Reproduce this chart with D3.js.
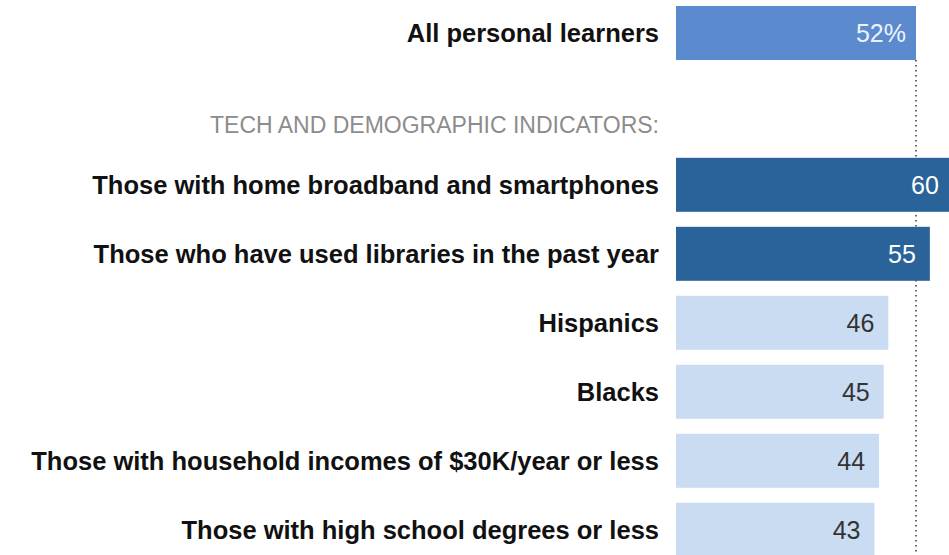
<!DOCTYPE html>
<html>
<head>
<meta charset="utf-8">
<script src="https://cdn.jsdelivr.net/npm/d3@7"></script>
<style>
  body { margin: 0; background: #fff; }
  svg { display: block; }
  .label { font-family: "Liberation Sans", Arial, sans-serif; font-weight: bold; fill: #111; }
  .value { font-family: "Liberation Sans", Arial, sans-serif; }
  .header { font-family: "Liberation Sans", Arial, sans-serif; fill: #8c8c8c; }
</style>
</head>
<body>
<script>
// data
var categories = [
  "All personal learners",
  "Those with home broadband and smartphones",
  "Those who have used libraries in the past year",
  "Hispanics",
  "Blacks",
  "Those with household incomes of $30K/year or less",
  "Those with high school degrees or less"
];
var values = [52, 60, 55, 46, 45, 44, 43];
var valueLabels = ["52%", "60", "55", "46", "45", "44", "43"];
var groups = ["total", "high", "high", "low", "low", "low", "low"];
// row slots, the gap after the first row holds the section title
var rowSlots = [0, 2.2, 3.2, 4.2, 5.2, 6.2, 7.2];
var sectionTitle = "TECH AND DEMOGRAPHIC INDICATORS:";
var sectionSlot = 1.33;
var referenceValue = 52;

var width = 949, height = 555;
var barHeight = 54;

var svg = d3.select("body").append("svg")
  .attr("width", width)
  .attr("height", height);

var x = d3.scaleLinear().domain([0, 52]).range([676, 916]);
var y = d3.scaleLinear().domain([0, 1]).range([6, 75]);

var fill = d3.scaleOrdinal()
  .domain(["total", "high", "low"])
  .range(["#5b8acf", "#2a6399", "#c9dcf1"]);
var textFill = d3.scaleOrdinal()
  .domain(["total", "high", "low"])
  .range(["#eef3fb", "#ffffff", "#333333"]);

var rows = categories.map(function (c, i) {
  return { name: c, value: values[i], label: valueLabels[i], group: groups[i], slot: rowSlots[i] };
});

// dotted reference line, under the bars
svg.append("line")
  .attr("x1", x(referenceValue))
  .attr("x2", x(referenceValue))
  .attr("y1", y(rowSlots[0]) + barHeight)
  .attr("y2", height)
  .attr("stroke", "#444")
  .attr("stroke-width", 1.6)
  .attr("stroke-dasharray", "1.6,3.4");

var g = svg.selectAll("g.row")
  .data(rows)
  .enter()
  .append("g")
  .attr("class", "row");

g.append("rect")
  .attr("x", x(0))
  .attr("y", function (d) { return y(d.slot); })
  .attr("width", function (d) { return x(d.value) - x(0); })
  .attr("height", barHeight)
  .attr("fill", function (d) { return fill(d.group); });

g.append("text")
  .attr("class", "label")
  .attr("x", x(0) - 17)
  .attr("y", function (d) { return y(d.slot) + barHeight / 2; })
  .attr("dy", "0.36em")
  .attr("text-anchor", "end")
  .attr("font-size", 25.5)
  .text(function (d) { return d.name; });

g.append("text")
  .attr("class", "value")
  .attr("x", function (d) { return x(d.value) - (d.group === "total" ? 10 : 14); })
  .attr("y", function (d) { return y(d.slot) + barHeight / 2; })
  .attr("dy", "0.36em")
  .attr("text-anchor", "end")
  .attr("font-size", 25)
  .attr("fill", function (d) { return textFill(d.group); })
  .text(function (d) { return d.label; });

svg.append("text")
  .attr("class", "header")
  .attr("x", x(0) - 17)
  .attr("y", y(sectionSlot) + barHeight / 2)
  .attr("dy", "0.36em")
  .attr("text-anchor", "end")
  .attr("font-size", 23)
  .text(sectionTitle);
</script>
</body>
</html>
